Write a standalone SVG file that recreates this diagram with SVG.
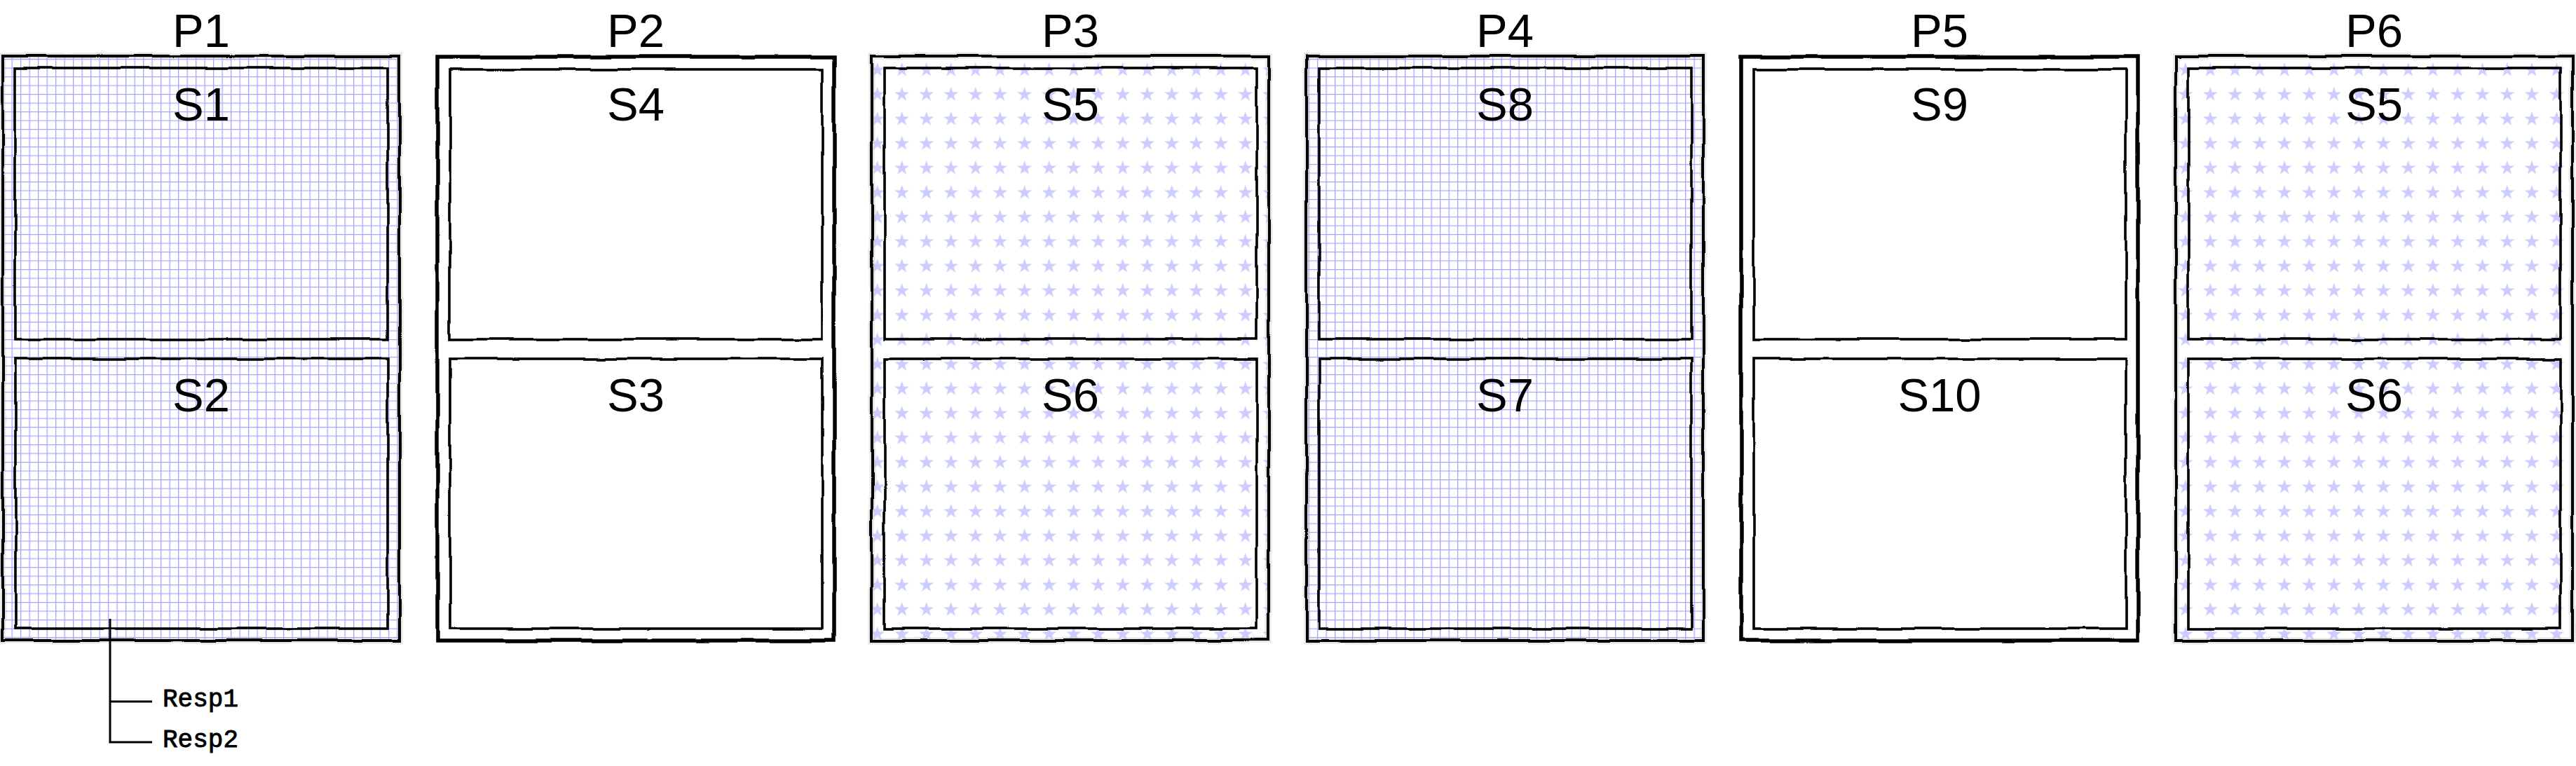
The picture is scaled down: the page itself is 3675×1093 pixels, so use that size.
<svg xmlns="http://www.w3.org/2000/svg" width="3675" height="1093" viewBox="0 0 3675 1093">
<defs>
  <pattern id="grid" patternUnits="userSpaceOnUse" x="4" y="9" width="12.5" height="12.5">
    <path d="M0,0.6 H12.5 M0.6,0 V12.5" stroke="#5a5aff" stroke-opacity="0.55" stroke-width="1.4" fill="none"/>
  </pattern>
  <pattern id="starsA" patternUnits="userSpaceOnUse" x="9.2" y="12.5" width="35" height="35">
    <polygon points="17.5,6.5 20.1,14 28,14 21.6,18.7 24,26.3 17.5,21.6 11,26.3 13.4,18.7 7,14 14.9,14" fill="#ccccff"/>
  </pattern>
  <pattern id="starsB" patternUnits="userSpaceOnUse" x="29.2" y="12.5" width="35.3" height="35">
    <polygon points="17.6,6.5 20.2,14 28.1,14 21.7,18.7 24.1,26.3 17.6,21.6 11.1,26.3 13.5,18.7 7.1,14 15,14" fill="#ccccff"/>
  </pattern>
  <filter id="wobble" filterUnits="userSpaceOnUse" x="0" y="0" width="3675" height="1093">
    <feTurbulence type="fractalNoise" baseFrequency="0.018" numOctaves="1" seed="7" result="n"/>
    <feDisplacementMap in="SourceGraphic" in2="n" scale="6" xChannelSelector="R" yChannelSelector="G"/>
  </filter>
  <style>
    .outer { fill: none; stroke: #000; stroke-width: 4; }
    .outerW { fill: none; stroke: #000; stroke-width: 5.5; }
    .inner { fill: none; stroke: #000; stroke-width: 3.6; }
    .halo { fill: none; stroke: #b5b5b5; stroke-opacity: 0.35; stroke-width: 9; }
    .lbl { font-family: "Liberation Sans", "DejaVu Sans", sans-serif; font-size: 67px; fill: #000; text-anchor: middle; }
    .resp { font-family: "Liberation Mono", "DejaVu Sans Mono", monospace; font-size: 36px; fill: #000; stroke: #000; stroke-width: 0.9; }
    .conn { fill: none; stroke: #000; stroke-width: 3; }
  </style>
</defs>
<rect width="3675" height="1093" fill="#fff"/>

<g id="P1">
  <rect x="4" y="80" width="566" height="834" fill="url(#grid)"/>
  <g filter="url(#wobble)">
    <rect class="halo" x="4" y="80" width="566" height="834"/>
    <rect class="outer" x="4" y="80" width="566" height="834"/>
    <rect class="inner" x="22" y="97" width="531" height="387"/>
    <rect class="inner" x="22" y="512" width="531" height="385"/>
  </g>
  <text class="lbl" x="287" y="67">P1</text>
  <text class="lbl" x="287" y="172">S1</text>
  <text class="lbl" x="287" y="587">S2</text>
</g>

<g id="P2">
  <rect x="624" y="81" width="566" height="833" fill="#fff"/>
  <g filter="url(#wobble)">
    <rect class="outerW" x="624" y="81" width="566" height="833"/>
    <rect class="inner" x="642" y="99" width="531" height="385"/>
    <rect class="inner" x="642" y="512" width="531" height="385"/>
  </g>
  <text class="lbl" x="907" y="67">P2</text>
  <text class="lbl" x="907" y="172">S4</text>
  <text class="lbl" x="907" y="587">S3</text>
</g>

<g id="P3">
  <rect x="1244" y="80" width="566" height="834" fill="url(#starsA)"/>
  <g filter="url(#wobble)">
    <rect class="halo" x="1244" y="80" width="566" height="834"/>
    <rect class="outer" x="1244" y="80" width="566" height="834"/>
    <rect class="inner" x="1262" y="97" width="531" height="387"/>
    <rect class="inner" x="1262" y="512" width="531" height="385"/>
  </g>
  <text class="lbl" x="1527" y="67">P3</text>
  <text class="lbl" x="1527" y="172">S5</text>
  <text class="lbl" x="1527" y="587">S6</text>
</g>

<g id="P4">
  <rect x="1864" y="80" width="566" height="834" fill="url(#grid)"/>
  <g filter="url(#wobble)">
    <rect class="halo" x="1864" y="80" width="566" height="834"/>
    <rect class="outer" x="1864" y="80" width="566" height="834"/>
    <rect class="inner" x="1882" y="97" width="531" height="387"/>
    <rect class="inner" x="1882" y="512" width="531" height="385"/>
  </g>
  <text class="lbl" x="2147" y="67">P4</text>
  <text class="lbl" x="2147" y="172">S8</text>
  <text class="lbl" x="2147" y="587">S7</text>
</g>

<g id="P5">
  <rect x="2484" y="81" width="566" height="833" fill="#fff"/>
  <g filter="url(#wobble)">
    <rect class="outerW" x="2484" y="81" width="566" height="833"/>
    <rect class="inner" x="2502" y="99" width="531" height="385"/>
    <rect class="inner" x="2502" y="512" width="531" height="385"/>
  </g>
  <text class="lbl" x="2767" y="67">P5</text>
  <text class="lbl" x="2767" y="172">S9</text>
  <text class="lbl" x="2767" y="587">S10</text>
</g>

<g id="P6">
  <rect x="3104" y="80" width="566" height="834" fill="url(#starsB)"/>
  <g filter="url(#wobble)">
    <rect class="halo" x="3104" y="80" width="566" height="834"/>
    <rect class="outer" x="3104" y="80" width="566" height="834"/>
    <rect class="inner" x="3122" y="97" width="531" height="387"/>
    <rect class="inner" x="3122" y="512" width="531" height="385"/>
  </g>
  <text class="lbl" x="3387" y="67">P6</text>
  <text class="lbl" x="3387" y="172">S5</text>
  <text class="lbl" x="3387" y="587">S6</text>
</g>

<g id="connectors">
  <path class="conn" d="M157,883 V1059 H217 M157,1001 H217"/>
  <text class="resp" x="232" y="1008">Resp1</text>
  <text class="resp" x="232" y="1066">Resp2</text>
</g>
</svg>
